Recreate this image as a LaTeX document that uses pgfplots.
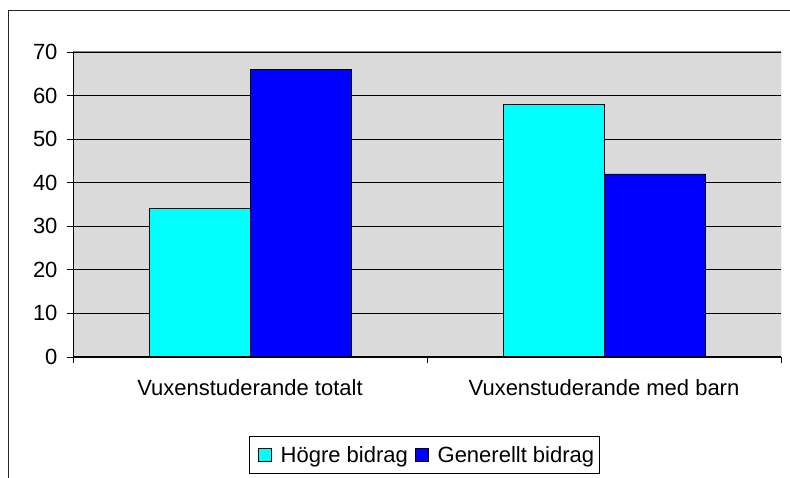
\documentclass[border=0pt]{standalone}
\usepackage{fontspec}
\setmainfont{Liberation Sans}
\usepackage{pgfplots}
\pgfplotsset{compat=1.18}
\definecolor{plotbg}{HTML}{DADADA}
\definecolor{hcyan}{HTML}{00FFFF}
\definecolor{gblue}{HTML}{0000FF}
\begin{document}
\begin{tikzpicture}[x=1bp,y=1bp]
\path[use as bounding box] (0,0) rectangle (790,478);
\draw[line width=1bp, black!85] (8,0) -- (8,467) -- (790,467);
\begin{axis}[
  at={(73bp,121bp)}, anchor=south west,
  scale only axis, width=708bp, height=305bp,
  xmin=-0.5, xmax=1.5, ymin=0, ymax=70,
  ytick={0,10,...,70},
  xtick={-0.5,0.5,1.5}, xticklabels={},
  extra x ticks={0,1},
  extra x tick labels={Vuxenstuderande totalt, Vuxenstuderande med barn},
  extra x tick style={major tick length=0pt},
  tick align=outside, tick pos=left,
  major tick length=6bp,
  tick style={black, line width=0.8bp},
  ymajorgrids,
  major grid style={black, line width=0.8bp},
  axis line style={draw=none},
  axis background/.style={fill=plotbg},
  /pgf/number format/assume math mode=true,
  every tick label/.append style={font=\fontsize{22bp}{26bp}\selectfont},
  yticklabel style={anchor=east, xshift=-6bp},
  xticklabel style={anchor=north, yshift=-19bp},
  legend style={at={(0.4965,-0.321)}, anchor=center, legend columns=2,
    draw=black, line width=0.8bp, font=\fontsize{22bp}{26bp}\selectfont,
    inner xsep=3bp, inner ysep=8bp, column sep=0bp},
  legend image code/.code={\path (-5bp,0bp) (20bp,0bp);
    \draw[#1, line width=0.8bp] (0bp,-6.5bp) rectangle (13bp,6.5bp);},
]
\addplot[ybar, bar width=0.2853, bar shift=-0.14265, fill=hcyan, draw=black, line width=0.8bp]
  coordinates {(0,34) (1,58)};
\addlegendentry{Högre bidrag}
\addplot[ybar, bar width=0.2853, bar shift=0.14265, fill=gblue, draw=black, line width=0.8bp]
  coordinates {(0,66) (1,42)};
\addlegendentry{Generellt bidrag}
\draw[gray, line width=1bp] (rel axis cs:0,1) -- (rel axis cs:1,1) -- (rel axis cs:1,0);
\draw[black, line width=1bp] (rel axis cs:0,1) -- (rel axis cs:0,0) -- (rel axis cs:1,0);
\end{axis}
\end{tikzpicture}
\end{document}
